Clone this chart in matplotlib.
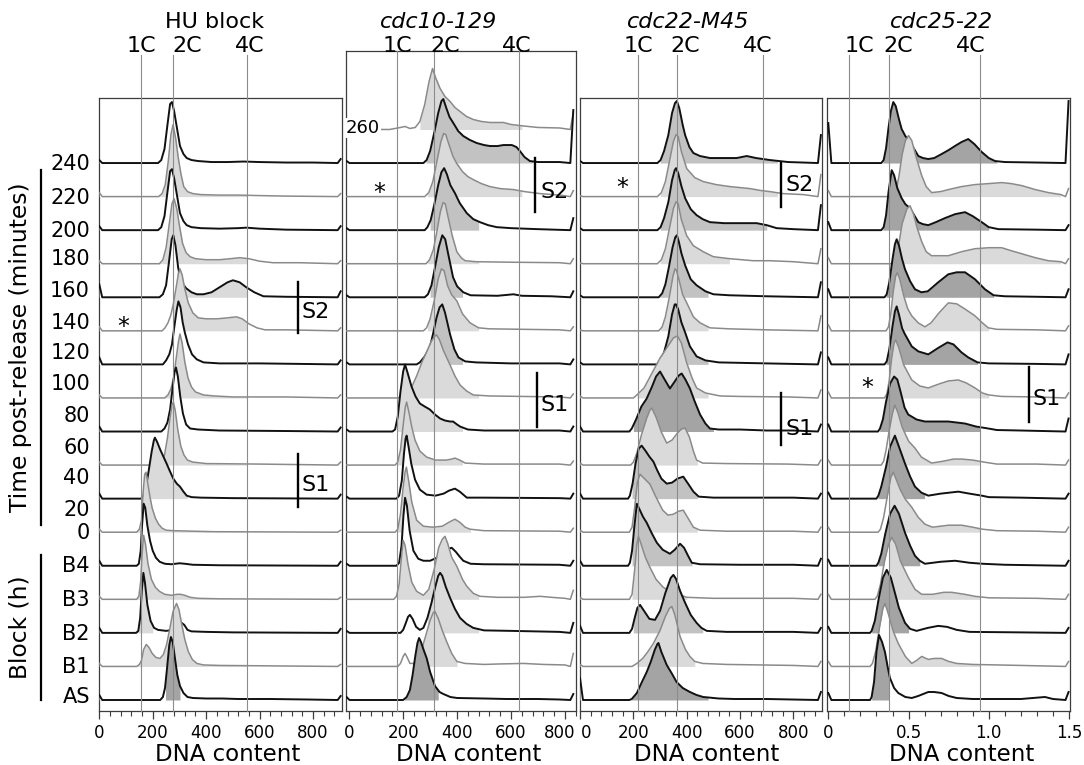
import numpy as np
import matplotlib
matplotlib.use("Agg")
import matplotlib.pyplot as plt
from matplotlib.ticker import MultipleLocator
from matplotlib.lines import Line2D
from matplotlib.transforms import ScaledTranslation

plt.rcParams['font.family'] = ['DejaVu Sans']

FIG_W, FIG_H = 1084, 765
ROW = 33.56  # vertical offset between stacked histograms, in count units

# ---------------------------------------------------------------------------
# Flow-cytometry DNA histograms. Each histogram is a list of
# (DNA content, cell count) points, stacked from the top sample to the bottom.
# ---------------------------------------------------------------------------

# HU block
hu_traces = [
    [(220,0),(232,3),(244,14),(255,38),(265,59),(272,61),(280,52),(290,36),(302,17),(315,9),(327,5),(345,3),(370,2),(420,1),(480,1),(540,1.5),(600,1),(700,0.5),(800,0.5)],
    [(222,0),(235,3),(247,12),(258,35),(268,62),(276,72),(286,58),(296,38),(306,22),(316,10),(330,5),(350,3),(380,2),(450,1.5),(520,1.5),(600,1),(700,0.5)],
    [(220,0),(232,3),(244,14),(255,38),(265,59),(272,61),(280,52),(290,36),(302,17),(315,9),(327,5),(345,3),(380,2),(450,1.5),(520,2),(550,2.5),(600,1.5),(700,0.5)],
    [(225,0),(238,4),(250,16),(262,40),(272,60),(280,65),(290,55),(300,38),(312,20),(325,11),(340,7),(360,5),(400,4),(450,4),(490,5),(526,6),(560,5),(600,2.5),(650,1),(750,1)],
    [(225,0),(238,3),(250,12),(262,38),(271,58),(277,62),(285,52),(295,30),(308,15),(325,9),(345,5),(365,3),(390,3),(420,5),(450,10),(480,15),(500,17),(525,15),(550,10),(580,5),(614,1),(700,0.5)],
    [(235,0),(246,3),(257,8),(268,16),(278,28),(288,44),(296,57),(302,62),(310,56),(320,42),(333,28),(350,18),(370,13),(400,12),(440,12),(480,13),(513,14),(535,12),(560,7),(590,3),(620,1),(700,1)],
    [(238,0),(250,4),(262,10),(272,20),(282,40),(290,55),(296,63),(304,57),(312,42),(320,32),(332,20),(347,10),(365,5),(390,2),(450,1),(600,1),(750,0.5)],
    [(245,0),(257,3),(268,9),(278,20),(288,40),(296,56),(302,64),(310,55),(320,36),(332,20),(345,11),(360,6),(390,3),(430,2),(500,1),(700,1)],
    [(232,0),(244,3),(255,9),(265,22),(275,45),(282,60),(287,64),(294,55),(303,35),(313,18),(325,7),(340,3),(370,2),(450,1),(700,0.5)],
    [(220,0),(232,3),(244,10),(255,27),(265,48),(272,60),(277,63),(284,55),(294,35),(305,19),(317,10),(330,5),(350,3),(400,1.5),(600,1)],
    [(158,0),(166,3),(175,12),(185,28),(196,47),(204,58),(208,61),(216,57),(228,49),(240,42),(252,35),(265,27),(277,20),(290,15),(302,12),(315,7),(327,3),(345,1.5),(380,1),(500,0.5)],
    [(140,0),(150,3),(158,12),(164,40),(170,58),(175,60),(182,48),(190,35),(198,24),(210,14),(222,8),(235,4),(250,2),(280,1.5),(350,1),(430,0.5)],
    [(140,0),(148,2),(155,15),(160,40),(166,62),(172,58),(180,40),(190,25),(200,15),(212,8),(226,4),(245,2),(270,1.5),(300,2.5),(320,2),(350,1),(450,0.5)],
    [(140,0),(148,3),(155,18),(160,45),(166,64),(173,55),(182,36),(195,20),(210,12),(225,8),(245,5),(270,4),(290,5),(305,5),(320,4),(340,2),(370,1),(450,0.5)],
    [(138,0),(146,2),(153,15),(159,42),(165,60),(171,50),(180,28),(192,12),(205,5),(220,3),(250,2),(275,3),(290,6),(300,9),(308,10),(318,8),(330,3),(345,1.5),(400,1),(500,0.5)],
    [(140,0),(150,2),(158,6),(166,17),(176,22),(186,19),(198,13),(212,9),(227,8),(240,12),(252,22),(264,38),(276,55),(289,63),(298,57),(308,43),(320,27),(333,15),(348,7),(365,3),(390,1.5),(450,1)],
    [(228,0),(238,3),(246,12),(254,33),(262,55),(268,63),(275,58),(283,42),(292,25),(302,14),(315,7),(330,3),(350,2),(400,1.5),(460,1.5),(520,1),(640,1),(780,0.5)],
]
hu_left_spike = [3, 4, 4, 3, 13, 4, 7, 3, 5, 3, 5, 3, 5, 3, 5, 3, 5]
hu_right_spike = [4, 3, 4, 3, 6, 3, 4, 3, 4, 3, 4, 2, 4, 2, 4, 2, 4]
hu_gates = [(0,0,0),(155,551,1),(0,0,0),(155,551,1),(290,551,1),(274,551,1),(0,0,0),(155,551,1),
            (0,0,0),(155,551,1),(155,330,1),(140,551,1),(0,0,0),(140,551,1),(140,200,1),(140,551,1),(248,302,3)]
hu_ploidy = [155, 274, 551]

# cdc10-129
c10_traces = [
    [(150,0),(190,2),(207,3),(225,1),(245,2),(262,8),(280,25),(296,48),(309,61),(320,52),(337,41),(355,33),(374,28),(392,22),(411,18),(435,13),(460,10),(490,8),(522,7),(550,7),(572,7),(600,5),(646,3.5),(700,2),(780,1.5)],
    [(275,0),(287,3),(300,12),(315,30),(330,50),(342,62),(349,64),(360,55),(372,46),(386,40),(404,32),(423,27),(448,23),(473,20),(500,18),(522,17),(550,17),(572,18),(603,18),(620,16),(633,12),(650,6),(670,2),(700,1),(780,1)],
    [(280,0),(295,4),(310,15),(325,35),(340,55),(350,63),(358,62),(370,52),(385,40),(399,33),(420,25),(440,20),(460,17),(490,13),(522,10),(560,8),(609,7),(650,5),(707,3),(780,1.5)],
    [(280,0),(290,3),(302,10),(315,25),(330,45),(342,58),(352,62),(362,56),(375,45),(392,37),(410,27),(436,17),(460,11),(485,8),(515,5),(547,3),(600,2),(700,1)],
    [(285,0),(298,4),(312,14),(325,32),(338,52),(348,61),(356,60),(368,45),(382,28),(399,12),(415,6),(430,3),(470,2),(600,1.5),(780,1)],
    [(280,0),(292,3),(305,12),(318,30),(332,50),(345,62),(356,58),(368,42),(385,20),(400,11),(423,5),(450,2),(550,1.5),(609,3),(640,1.5),(750,1)],
    [(275,0),(287,3),(300,12),(315,30),(330,52),(342,62),(352,60),(365,45),(380,36),(399,30),(420,17),(448,8),(480,3),(520,2),(650,1.5),(780,1)],
    [(250,0),(262,2),(280,8),(299,17),(312,32),(324,47),(335,57),(345,60),(355,52),(374,30),(390,15),(405,7),(430,3),(470,2),(600,1),(780,1)],
    [(180,0),(200,2),(213,5),(230,10),(250,22),(270,36),(290,48),(305,57),(318,62),(324,63),(335,58),(350,47),(374,33),(392,22),(411,13),(435,7),(460,3),(520,2),(650,1.5),(780,1)],
    [(160,0),(170,2),(180,15),(190,40),(200,60),(207,67),(215,60),(231,45),(246,35),(262,28),(280,25),(299,22),(318,17),(337,13),(355,11),(374,10),(385,10),(400,7),(411,5),(440,2),(500,1),(600,1),(780,1)],
    [(170,0),(180,3),(190,15),(200,40),(208,58),(213,63),(222,52),(232,38),(244,25),(262,14),(287,8),(320,5),(360,5),(380,6),(392,7),(410,5),(430,2),(500,1),(780,1)],
    [(175,0),(185,3),(195,18),(203,45),(209,60),(213,63),(220,52),(230,35),(244,19),(262,9),(287,4),(320,3),(350,5),(370,8),(392,10),(410,7),(436,1),(500,1),(780,0.5)],
    [(170,0),(180,3),(190,18),(200,45),(207,60),(212,65),(220,52),(232,30),(250,12),(275,6),(310,5),(345,6),(370,10),(392,13),(410,10),(430,5),(448,3),(500,1.5),(780,1)],
    [(175,0),(185,3),(194,20),(201,50),(207,68),(214,60),(224,35),(238,15),(256,7),(275,5),(300,5),(325,8),(350,13),(370,17),(380,18),(395,14),(410,9),(423,5),(450,2),(500,1.5),(780,1)],
    [(165,0),(175,3),(185,15),(193,40),(200,59),(207,54),(218,35),(232,17),(250,8),(275,4),(295,10),(315,30),(332,52),(345,60),(355,63),(365,56),(380,42),(399,33),(420,20),(436,13),(460,6),(485,3),(550,2),(650,2),(707,3),(750,2),(800,1)],
    [(190,0),(200,3),(210,10),(218,16),(225,18),(235,14),(248,6),(262,3),(275,5),(290,15),(305,30),(320,47),(330,57),(337,60),(345,57),(358,46),(374,35),(392,24),(411,15),(435,9),(460,5),(500,2.5),(600,2),(780,1)],
    [(180,0),(190,3),(200,10),(207,13),(215,9),(225,3),(240,3),(255,8),(270,18),(285,32),(300,46),(312,54),(318,55),(330,48),(345,36),(361,25),(380,13),(399,5),(430,3),(500,2),(560,2.5),(646,3),(720,2),(800,1.5)],
    [(200,0),(213,3),(225,10),(235,25),(245,44),(253,57),(259,62),(266,58),(276,50),(287,42),(300,28),(318,14),(335,8),(349,6),(375,3),(400,2),(500,1.5),(584,1),(700,1),(780,0.5)],
]
c10_left_spike = [0, 2, 0, 2, 0, 2, 0, 2, 0, 2, 0, 2, 0, 2, 0, 2, 0, 3]
c10_right_spike = [17, 53, 6, 12, 5, 6, 4, 5, 4, 5, 4, 5, 4, 5, 9, 10, 13, 6]
c10_gates = [(262,640,1),(285,680,2),(290,640,1),(300,480,2),(290,480,1),(300,420,2),(290,480,1),(280,420,2),
             (177,480,1),(177,420,1),(177,420,1),(0,0,0),(177,450,1),(0,0,0),(177,480,1),(290,480,1),(262,400,1),(205,330,3)]
c10_ploidy = [177, 314, 630]

# cdc22-M45
c22_traces = [
    [(290,0),(302,3),(315,12),(331,28),(345,50),(356,60),(363,62),(372,55),(385,38),(394,28),(410,16),(425,10),(450,7),(487,5),(540,5),(587,5),(625,7),(660,5),(712,3),(780,1),(837,0.5)],
    [(290,0),(305,4),(320,15),(335,35),(350,55),(360,62),(368,60),(380,45),(400,28),(430,19),(462,15),(510,12),(562,10),(600,9),(637,8),(680,6),(712,5),(760,3),(837,2)],
    [(290,0),(302,3),(315,12),(331,28),(345,50),(355,60),(360,62),(368,57),(380,44),(394,32),(415,21),(437,15),(460,11),(487,8),(540,7),(587,7),(625,7),(662,7),(700,5),(737,2),(800,1)],
    [(290,0),(305,4),(320,15),(335,35),(350,55),(360,62),(368,60),(380,44),(400,28),(425,18),(462,12),(500,7),(562,5),(650,3),(712,3),(800,2)],
    [(295,0),(308,4),(320,13),(333,30),(347,50),(357,60),(363,62),(370,56),(380,44),(394,32),(415,18),(437,12),(470,6),(500,3),(560,2),(700,1)],
    [(295,0),(308,4),(320,14),(335,34),(348,54),(356,62),(362,60),(372,50),(385,36),(400,28),(425,14),(450,8),(487,3),(560,2),(700,1)],
    [(290,0),(302,3),(315,12),(331,28),(345,50),(355,60),(360,60),(368,55),(380,42),(394,32),(412,18),(437,8),(470,4),(520,2),(700,1)],
    [(200,0),(213,3),(240,10),(270,25),(300,40),(330,52),(350,60),(365,62),(380,55),(400,35),(420,20),(437,10),(470,5),(525,2),(600,1.5),(780,1)],
    [(185,0),(194,3),(210,12),(230,25),(250,33),(270,45),(285,55),(300,60),(315,53),(337,43),(355,50),(370,56),(381,58),(395,52),(412,43),(430,30),(450,17),(470,8),(487,3),(520,2),(600,2),(700,1),(800,1)],
    [(190,0),(200,3),(213,12),(230,30),(250,47),(262,55),(269,57),(285,48),(305,33),(325,22),(345,25),(365,32),(380,36),(394,37),(410,28),(425,14),(437,5),(460,2),(550,1.5),(780,1)],
    [(180,0),(187,3),(197,15),(208,35),(220,50),(231,53),(245,48),(260,42),(275,37),(290,28),(305,20),(325,15),(345,16),(365,20),(387,22),(405,15),(425,7),(445,2),(500,1),(650,1),(800,1)],
    [(185,0),(195,5),(205,25),(215,50),(225,58),(240,54),(262,48),(285,35),(310,22),(330,17),(350,18),(370,21),(387,22),(405,14),(425,5),(450,2),(550,1),(800,1)],
    [(180,0),(187,3),(195,15),(204,40),(213,62),(222,57),(236,49),(250,43),(268,33),(288,23),(310,16),(337,12),(355,16),(375,22),(390,18),(405,10),(419,3),(450,1.5),(600,1),(800,1)],
    [(185,0),(195,5),(205,30),(213,55),(219,63),(228,56),(245,42),(262,32),(285,20),(312,12),(337,8),(362,5),(380,4),(400,2),(500,1),(800,1)],
    [(185,0),(195,4),(205,15),(215,25),(225,28),(240,22),(260,14),(281,13),(300,22),(320,40),(340,55),(350,58),(360,54),(375,42),(394,30),(415,18),(437,10),(455,5),(475,2),(550,1),(800,1)],
    [(195,0),(213,3),(235,8),(255,15),(275,23),(300,36),(320,50),(335,58),(344,60),(355,52),(375,30),(395,17),(412,10),(430,5),(460,3),(550,2),(800,1)],
    [(185,0),(194,1),(213,7),(232,18),(250,28),(265,38),(280,50),(290,56),(294,57),(305,48),(325,35),(343,27),(362,18),(385,12),(412,8),(437,5),(462,3),(520,1.5),(580,1),(700,1)],
]
c22_left_spike = [2, 1, 2, 1, 2, 1, 2, 2, 5, 2, 5, 2, 5, 2, 7, 2, 22]
c22_right_spike = [28, 22, 25, 15, 15, 15, 12, 8, 7, 5, 5, 5, 7, 5, 5, 5, 8]
c22_gates = [(300,740,2),(300,740,1),(300,700,2),(300,560,1),(300,480,2),(300,480,1),(300,480,2),(213,480,1),
             (200,500,3),(200,440,1),(195,440,2),(195,440,1),(195,420,2),(195,400,1),(200,460,2),(213,430,1),(194,480,3)]
c22_ploidy = [219, 365, 685]

# cdc25-22
c25_traces = [
    [(0.33,0),(0.345,3),(0.36,15),(0.375,35),(0.39,52),(0.405,61),(0.42,57),(0.44,44),(0.457,34),(0.48,27),(0.509,21),(0.535,14),(0.561,7),(0.59,5),(0.623,4),(0.66,5),(0.706,9),(0.75,13),(0.789,17),(0.83,21),(0.872,24),(0.91,19),(0.956,11),(1.0,5),(1.039,2),(1.1,1),(1.3,0.5)],
    [(0.40,0),(0.42,5),(0.44,20),(0.46,42),(0.48,56),(0.50,61),(0.52,56),(0.55,38),(0.582,21),(0.61,10),(0.644,4),(0.7,5),(0.748,7),(0.83,10),(0.914,12),(1.0,13),(1.08,14),(1.14,13),(1.205,11),(1.29,7),(1.371,4),(1.45,2)],
    [(0.33,0),(0.345,3),(0.36,15),(0.375,38),(0.395,60),(0.41,55),(0.43,42),(0.457,32),(0.48,26),(0.509,22),(0.535,15),(0.561,8),(0.59,6),(0.623,5),(0.67,8),(0.726,12),(0.79,16),(0.852,18),(0.9,14),(0.956,8),(1.0,3),(1.06,1),(1.3,0.5)],
    [(0.40,0),(0.42,5),(0.44,20),(0.46,40),(0.49,55),(0.509,58),(0.53,50),(0.555,35),(0.582,22),(0.61,12),(0.644,8),(0.7,8),(0.748,8),(0.83,12),(0.914,15),(1.0,16),(1.08,16),(1.14,13),(1.205,10),(1.29,6),(1.371,3),(1.45,2)],
    [(0.35,0),(0.364,3),(0.38,15),(0.4,38),(0.415,53),(0.426,58),(0.44,52),(0.46,38),(0.478,28),(0.51,16),(0.54,8),(0.58,5),(0.62,6),(0.685,15),(0.748,23),(0.8,25),(0.852,25),(0.914,18),(0.976,8),(1.03,2),(1.1,1),(1.3,0.5)],
    [(0.36,0),(0.375,4),(0.39,18),(0.405,40),(0.42,55),(0.43,58),(0.445,52),(0.47,35),(0.495,22),(0.52,15),(0.56,8),(0.602,4),(0.64,8),(0.69,18),(0.748,28),(0.8,27),(0.85,22),(0.914,15),(0.96,8),(0.997,3),(1.05,1.5),(1.3,1)],
    [(0.35,0),(0.364,3),(0.38,15),(0.4,38),(0.415,53),(0.426,58),(0.44,50),(0.46,36),(0.478,30),(0.52,18),(0.561,13),(0.623,10),(0.68,16),(0.743,22),(0.78,20),(0.83,12),(0.872,7),(0.93,2),(1.0,1),(1.3,0.5)],
    [(0.35,0),(0.365,4),(0.38,18),(0.395,40),(0.41,55),(0.42,58),(0.44,50),(0.47,33),(0.52,18),(0.57,12),(0.623,10),(0.69,14),(0.748,17),(0.81,18),(0.86,15),(0.914,10),(0.96,5),(1.0,3),(1.08,1.5),(1.3,1)],
    [(0.31,0),(0.322,3),(0.34,12),(0.36,30),(0.385,48),(0.41,55),(0.43,52),(0.45,40),(0.475,24),(0.498,17),(0.55,12),(0.602,10),(0.68,10),(0.748,10),(0.8,9),(0.852,8),(0.92,5),(0.997,3),(1.05,1.5),(1.2,1)],
    [(0.33,0),(0.345,4),(0.36,15),(0.38,35),(0.4,52),(0.415,60),(0.435,52),(0.46,38),(0.5,24),(0.54,17),(0.58,8),(0.644,2),(0.72,4),(0.78,6),(0.831,6),(0.9,5),(0.97,3),(1.05,1),(1.3,1)],
    [(0.30,0),(0.312,3),(0.33,12),(0.36,32),(0.385,52),(0.415,63),(0.44,52),(0.478,35),(0.51,22),(0.54,12),(0.58,6),(0.623,3),(0.7,5),(0.81,7),(0.88,5),(0.956,3),(1.0,1.5),(1.2,1)],
    [(0.31,0),(0.325,3),(0.345,15),(0.37,38),(0.39,55),(0.405,60),(0.425,52),(0.45,42),(0.48,33),(0.52,25),(0.56,15),(0.602,8),(0.65,5),(0.75,7),(0.831,7),(0.9,5),(0.96,3),(1.05,1.5),(1.3,1)],
    [(0.30,0),(0.312,3),(0.33,12),(0.355,32),(0.385,52),(0.413,60),(0.44,52),(0.478,33),(0.51,20),(0.54,10),(0.57,5),(0.602,2),(0.7,4),(0.79,5),(0.88,3),(0.96,2),(1.1,1)],
    [(0.29,0),(0.305,3),(0.325,15),(0.35,38),(0.375,55),(0.395,62),(0.42,55),(0.45,38),(0.498,22),(0.54,10),(0.582,5),(0.65,5),(0.72,7),(0.769,7),(0.85,5),(0.914,3),(1.0,1.5),(1.3,1)],
    [(0.26,0),(0.27,2),(0.29,12),(0.315,35),(0.34,55),(0.364,63),(0.39,55),(0.415,40),(0.44,25),(0.478,10),(0.51,4),(0.55,2),(0.62,5),(0.685,7),(0.74,6),(0.8,3),(0.88,1),(1.2,0.5)],
    [(0.26,0),(0.275,3),(0.295,15),(0.32,40),(0.34,58),(0.353,63),(0.375,52),(0.405,35),(0.436,23),(0.48,10),(0.52,3),(0.55,6),(0.582,10),(0.623,7),(0.66,8),(0.706,8),(0.75,5),(0.8,3),(0.9,2),(1.2,1)],
    [(0.26,0),(0.27,3),(0.285,18),(0.3,48),(0.316,65),(0.335,58),(0.353,48),(0.37,33),(0.384,22),(0.41,12),(0.436,7),(0.48,3),(0.52,2),(0.56,4),(0.623,8),(0.66,8),(0.706,7),(0.75,4),(0.8,2),(0.9,1),(1.2,1),(1.35,3),(1.4,1)],
]
c25_left_spike = [40, 6, 8, 6, 8, 6, 7, 6, 7, 5, 6, 5, 6, 5, 6, 5, 7]
c25_right_spike = [62, 8, 5, 5, 8, 5, 10, 5, 13, 5, 5, 5, 5, 5, 5, 5, 8]
c25_gates = [(0.34,1.05,3),(0.381,1.45,1),(0.34,1.0,3),(0.381,1.45,1),(0.36,1.03,3),(0.381,1.0,1),(0.36,0.93,3),(0.381,1.0,1),
             (0.32,0.944,3),(0.381,0.944,1),(0.31,0.6,3),(0.381,0.944,1),(0.31,0.57,3),(0.381,0.944,1),(0.27,0.5,3),(0.381,0.944,1),(0.27,0.381,3)]
c25_ploidy = [0.132, 0.381, 0.944]

sample_labels = ["240", "220", "200", "180", "160", "140", "120", "100", "80",
                 "60", "40", "20", "0", "B4", "B3", "B2", "B1", "AS"]
ploidy_names = ["1C", "2C", "4C"]
titles = ["HU block", "cdc10-129", "cdc22-M45", "cdc25-22"]

# ---------------------------------------------------------------------------
SHADES = {1: "#dadada", 2: "#c2c2c2", 3: "#a4a4a4"}
BLACK, GREY = "#111111", "#8a8a8a"
FRAME = "#3c3c3c"

fig = plt.figure(figsize=(FIG_W / 100, FIG_H / 100), dpi=100)


def fig_xy(px, py):
    return px / FIG_W, 1 - py / FIG_H


def add_axes_px(left, top, right, bottom):
    return fig.add_axes([left / FIG_W, 1 - bottom / FIG_H,
                         (right - left) / FIG_W, (bottom - top) / FIG_H])


def draw_stack(ax, traces, gates, lspk, rspk, spk_pos, spk_w):
    n = len(traces)
    for i, pts in enumerate(traces):
        k = n - 1 - i                      # baseline (0 = bottom sample)
        colour = BLACK if k % 2 == 0 else GREY
        xs = np.array([spk_pos[0], spk_pos[0] + spk_w] + [p[0] for p in pts]
                      + [spk_pos[1] - spk_w, spk_pos[1]], dtype=float)
        hs = np.array([lspk[i], 0] + [p[1] for p in pts] + [0, rspk[i]], dtype=float)
        g0, g1, shade = gates[i]
        if shade:
            # put the gate edges on the polyline so the shading starts exactly there
            extra = [g for g in (g0, g1) if g not in xs]
            if extra:
                he = np.interp(extra, xs, hs)
                xs = np.concatenate([xs, extra])
                hs = np.concatenate([hs, he])
                order = np.argsort(xs, kind="stable")
                xs, hs = xs[order], hs[order]
        ys = k + hs / ROW
        z = 10 + 3 * i                     # lower samples sit in front
        ax.fill_between(xs, k, ys, color="white", lw=0, zorder=z)
        if shade:
            m = (xs >= g0) & (xs <= g1)
            ax.fill_between(xs, k, ys, where=m, color=SHADES[shade], lw=0, zorder=z + 0.5)
        ax.plot(xs, ys, color=colour, lw=1.4 if colour == BLACK else 1.1,
                zorder=z + 1, solid_joinstyle="round")


# layout of the four panels (pixel boxes)
boxes = [(99, 98, 341.7, 711), (346, 51, 576, 711), (579.5, 98, 821.7, 711), (826.7, 98, 1070, 711)]
xlims = [(-1, 907), (-12, 841), (-2, 906), (-0.01, 1.506)]
spike_pos = [(0, 903), (-10, 831), (0, 903), (0.0, 1.497)]
spike_w = [11, 11, 11, 0.019]
stacks = [(hu_traces, hu_gates, hu_left_spike, hu_right_spike, hu_ploidy),
          (c10_traces, c10_gates, c10_left_spike, c10_right_spike, c10_ploidy),
          (c22_traces, c22_gates, c22_left_spike, c22_right_spike, c22_ploidy),
          (c25_traces, c25_gates, c25_left_spike, c25_right_spike, c25_ploidy)]
ploidy_label_px = [(141, 187, 250), (397, 445, 517), (638, 685, 758), (859, 898, 971)]
title_px = [214.5, 439, 688.5, 941.5]
xlabel_px = [227.5, 469, 707, 961.7]
BASE_PX = 700  # pixel row of the bottom baseline

# pixel shifts for tick labels that would otherwise touch across a panel border
tick_nudges = {(1, 800): -5, (2, 0): 6}

axes = []
for p, (box, xl, stk) in enumerate(zip(boxes, xlims, stacks)):
    left, top, right, bottom = box
    ax = add_axes_px(*box)
    axes.append(ax)
    traces, gates, lspk, rspk, ploidy = stk
    draw_stack(ax, traces, gates, lspk, rspk, spike_pos[p], spike_w[p])
    ax.set_xlim(*xl)
    ax.set_ylim(-(bottom - BASE_PX) / ROW, (BASE_PX - top) / ROW)
    ax.set_yticks([])
    for s in ax.spines.values():
        s.set_color(FRAME)
        s.set_linewidth(0.9)
    if p < 3:
        ticks = [0, 200, 400, 600, 800]
        ax.set_xticks(ticks, labels=[str(t) for t in ticks])
        ax.xaxis.set_minor_locator(MultipleLocator(40))
    else:
        ticks = [0, 0.5, 1.0, 1.5]
        ax.set_xticks(ticks, labels=["0", "0.5", "1.0", "1.5"])
        ax.xaxis.set_minor_locator(MultipleLocator(0.1))
    ax.tick_params(axis="x", which="major", direction="out", length=6, width=0.9,
                   color=FRAME, labelsize=12, pad=3)
    ax.tick_params(axis="x", which="minor", direction="out", length=3.5, width=0.8, color=FRAME)
    for tick in ax.xaxis.get_major_ticks():
        dx = tick_nudges.get((p, tick.get_loc()))
        if dx:
            tick.label1.set_transform(tick.label1.get_transform()
                                      + ScaledTranslation(dx / 100, 0, fig.dpi_scale_trans))

    # 1C / 2C / 4C reference lines, running up to their labels
    h_px = bottom - top
    top_frac = (bottom - 55) / h_px if p != 1 else 1.0
    for u in ploidy:
        ax.plot([u, u], [0, top_frac], transform=ax.get_xaxis_transform(),
                color="#8c8c8c", lw=0.8, zorder=200, clip_on=False)
    for name, lx in zip(ploidy_names, ploidy_label_px[p]):
        fig.text(*fig_xy(lx, 51.5), name, ha="center", va="baseline", fontsize=16)
    fig.text(*fig_xy(title_px[p], 28.3), titles[p], ha="center", va="baseline",
             fontsize=16, fontstyle="normal" if p == 0 else "italic")
    fig.text(*fig_xy(xlabel_px[p], 760.7), "DNA content", ha="center", va="baseline",
             fontsize=16.5)

ax1, ax2, ax3, ax4 = axes

# sample labels down the left side
label_px = [162.5, 195.8, 229, 257, 289, 320.8, 350.8, 382.5, 414, 445.8, 475.8,
            507.5, 530.8, 564, 598, 631.7, 665, 695]
for lab, py in zip(sample_labels, label_px):
    ax1.text(-9 / (boxes[0][2] - boxes[0][0]), (BASE_PX - py) / ROW, lab,
             transform=ax1.get_yaxis_transform(), ha="right", va="center_baseline",
             fontsize=15)

# group brackets and their titles
for y0, y1 in [(170, 525), (555, 700)]:
    fig.add_artist(Line2D([40.5 / FIG_W] * 2, [1 - y0 / FIG_H, 1 - y1 / FIG_H],
                          color="black", lw=1.6))
fig.text(*fig_xy(26.7, 347.5), "Time post-release (minutes)", rotation=90,
         rotation_mode="anchor", ha="center", va="baseline", fontsize=16.8)
fig.text(*fig_xy(26.7, 626.7), "Block (h)", rotation=90,
         rotation_mode="anchor", ha="center", va="baseline", fontsize=16.8)

# extra time point in the cdc10-129 stack
ax2.text(51, 17.1, "260", ha="center", va="center_baseline", fontsize=13, zorder=300,
         bbox=dict(facecolor="white", edgecolor="none", pad=0.5))

# asterisks
for ax, u, py in [(ax1, 89, 322), (ax2, 110, 188), (ax3, 157.5, 183), (ax4, 0.24, 383)]:
    ax.text(u, (BASE_PX - py - 12) / ROW, "*", ha="center", va="baseline",
            fontsize=17, zorder=300)

# S-phase markers: bar from y_top to y_bottom (pixels) and label
s_marks = [(ax1, 743, 282, 333, 758, 310, "S2"), (ax1, 743, 454, 507, 758, 483, "S1"),
           (ax2, 689, 158, 212, 708, 190, "S2"), (ax2, 696, 373, 427, 711, 403, "S1"),
           (ax3, 754, 163, 207, 769, 183, "S2"), (ax3, 754, 393, 445, 769, 427, "S1"),
           (ax4, 1.25, 367, 422, 1.275, 397, "S1")]
for ax, ux, y0, y1, tx, ty, lab in s_marks:
    ax.plot([ux, ux], [(BASE_PX - y0) / ROW, (BASE_PX - y1) / ROW], color="black",
            lw=1.7, zorder=300, clip_on=False)
    ax.text(tx, (BASE_PX - ty) / ROW, lab, ha="left", va="center_baseline",
            fontsize=16, zorder=300, clip_on=False)

fig.savefig("out.png", dpi=100)
